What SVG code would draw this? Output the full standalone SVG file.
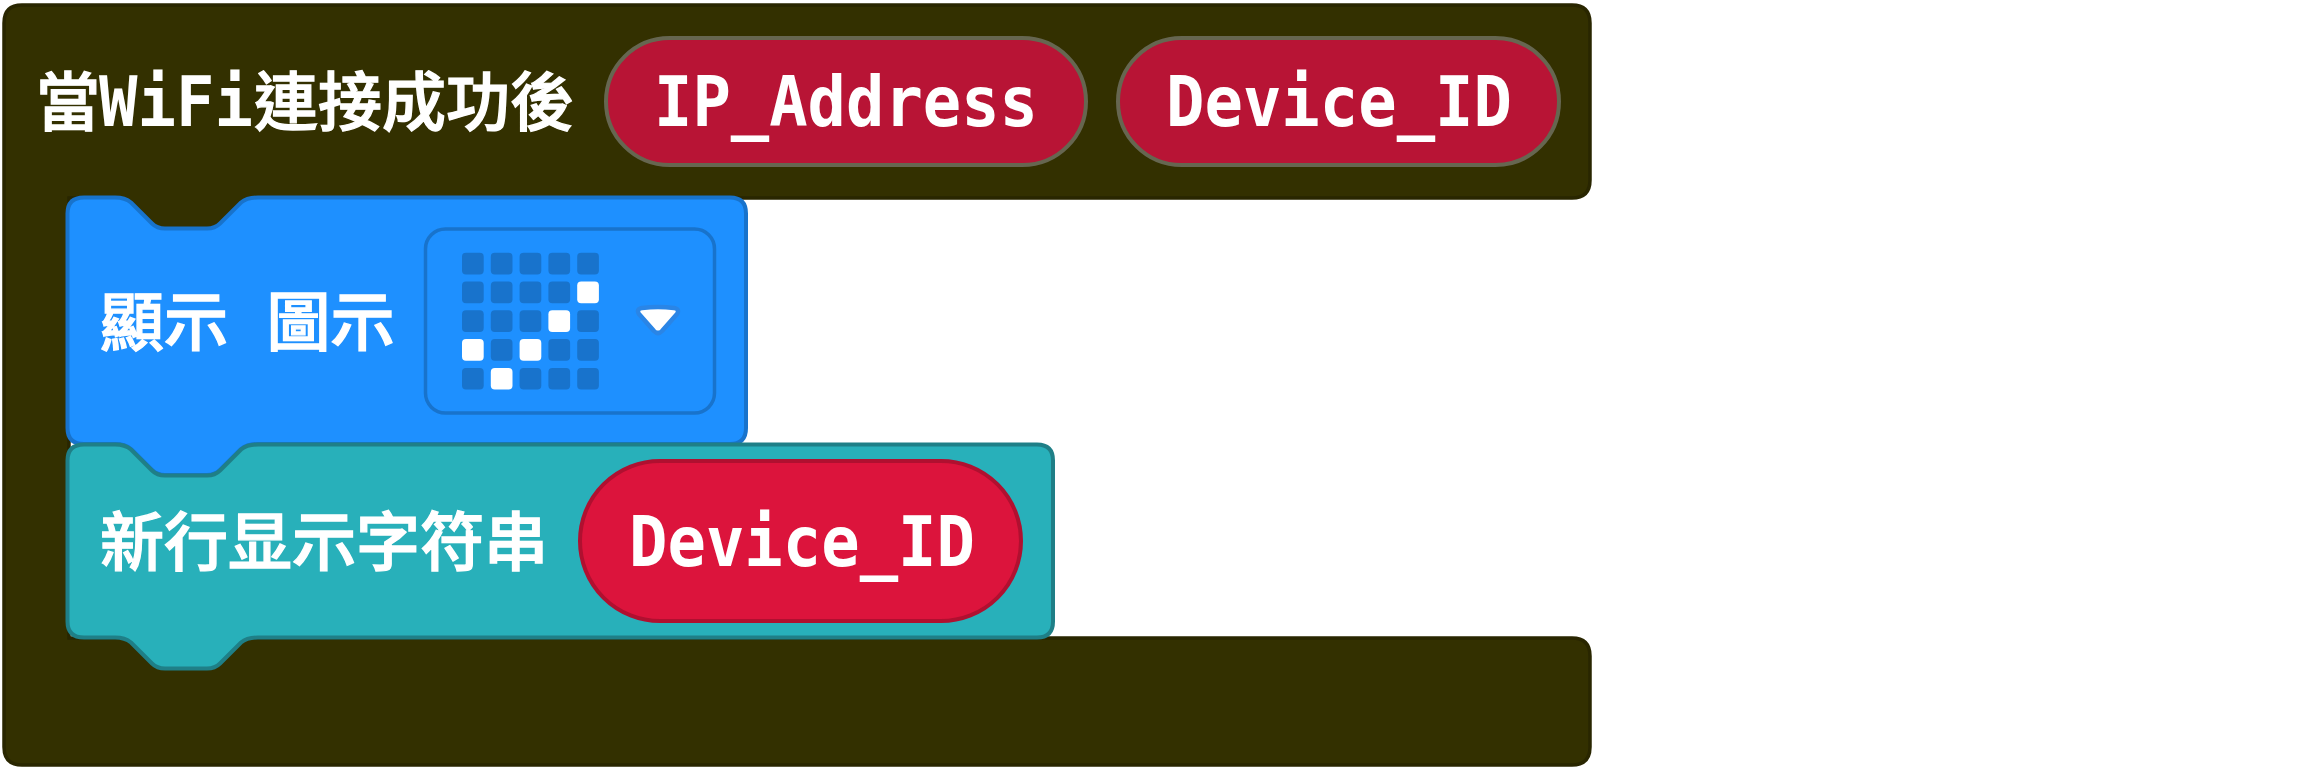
<svg xmlns="http://www.w3.org/2000/svg" width="2300" height="783" viewBox="0 0 2300 783">
<style>
.t{font-family:"DejaVu Sans Mono","Noto Sans CJK TC","Noto Sans CJK SC",monospace;font-size:64px;font-weight:500;fill:#fff;stroke:#fff;stroke-width:1.3px}
.m{font-size:70px;font-weight:700;stroke:none}
.pill1{fill:#b81435;stroke:#666650;stroke-width:4}
.pill2{fill:#dc143c;stroke:#b01030;stroke-width:4}
.d{fill:#1873cc}
.l{fill:#fff}
</style>
<defs>
<rect id="c" width="21.7" height="21.7" rx="4"/>
</defs>
<rect width="2300" height="783" fill="#fff"/>
<g id="event-block">
<path d="M22 5H1572Q1590 5 1590 23V180Q1590 198 1572 198H258Q247 198 241 203L220 224Q215 229 207 229H165Q157 229 152 224L131 203Q125 198 115 198H69V638H1572Q1590 638 1590 656V747Q1590 765 1572 765H22Q4 765 4 747V23Q4 5 22 5Z" fill="#333000" stroke="#292600" stroke-width="3.5"/>
<text class="t" y="125"><tspan x="36">當</tspan><tspan class="m" x="99" y="126" textLength="154" lengthAdjust="spacingAndGlyphs">WiFi</tspan><tspan x="254" y="125">連接成功後</tspan></text>
<rect class="pill1" x="606" y="38" width="480" height="127" rx="63.5"/>
<text class="t m" x="654" y="126" textLength="384" lengthAdjust="spacingAndGlyphs">IP_Address</text>
<rect class="pill1" x="1118" y="38" width="441" height="127" rx="63.5"/>
<text class="t m" x="1166" y="126" textLength="346" lengthAdjust="spacingAndGlyphs">Device_ID</text>
</g>
<g id="show-icon-block">
<path d="M84 197.500H115Q125 197.500 131 202.500L152 223.500Q157 228.500 165 228.500H207Q215 228.500 220 223.500L241 202.500Q247 197.500 258 197.500H730Q746 197.500 746 213.500V428Q746 444 730 444H258Q247 444 241 449L220 470Q215 475 207 475H165Q157 475 152 470L131 449Q125 444 115 444H84Q67.500 444 67.500 428V213.500Q67.500 197.500 84 197.500Z" fill="#1e90ff" stroke="#1873cc" stroke-width="4"/>
<text class="t" x="100" y="345">顯示 圖示</text>
<rect x="425.500" y="229" width="289" height="184" rx="20" fill="#1e90ff" stroke="#1873cc" stroke-width="3.500"/>
<g class="d">
<use href="#c" x="462" y="252.700"/><use href="#c" x="490.800" y="252.700"/><use href="#c" x="519.600" y="252.700"/><use href="#c" x="548.400" y="252.700"/><use href="#c" x="577.200" y="252.700"/>
<use href="#c" x="462" y="281.500"/><use href="#c" x="490.800" y="281.500"/><use href="#c" x="519.600" y="281.500"/><use href="#c" x="548.400" y="281.500"/>
<use href="#c" x="462" y="310.300"/><use href="#c" x="490.800" y="310.300"/><use href="#c" x="519.600" y="310.300"/><use href="#c" x="577.200" y="310.300"/>
<use href="#c" x="490.800" y="339.100"/><use href="#c" x="548.400" y="339.100"/><use href="#c" x="577.200" y="339.100"/>
<use href="#c" x="462" y="367.900"/><use href="#c" x="519.600" y="367.900"/><use href="#c" x="548.400" y="367.900"/><use href="#c" x="577.200" y="367.900"/>
</g>
<g class="l">
<use href="#c" x="577.200" y="281.500"/>
<use href="#c" x="548.400" y="310.300"/>
<use href="#c" x="462" y="339.100"/><use href="#c" x="519.600" y="339.100"/>
<use href="#c" x="490.800" y="367.900"/>
</g>
<path d="M642 308Q658 306 674 308Q680 309 677 314L662 331Q658 335 654 331L639 314Q636 309 642 308Z" fill="#fff" stroke="#2a85e6" stroke-width="4.500" stroke-linejoin="round"/>
</g>
<g id="show-string-block">
<path d="M84 444.500H115Q125 444.500 131 449.500L152 470.500Q157 475.500 165 475.500H207Q215 475.500 220 470.500L241 449.500Q247 444.500 258 444.500H1037Q1053 444.500 1053 460.500V621.500Q1053 637.500 1037 637.500H258Q247 637.500 241 642.500L220 663.500Q215 668.500 207 668.500H165Q157 668.500 152 663.500L131 642.500Q125 637.500 115 637.500H84Q67.500 637.500 67.500 621.500V460.500Q67.500 444.500 84 444.500Z" fill="#28b0ba" stroke="#1f7f87" stroke-width="4"/>
<text class="t" x="100" y="565">新行显示字符串</text>
<rect class="pill2" x="580" y="461" width="441" height="160" rx="80"/>
<text class="t m" x="629" y="566" textLength="346" lengthAdjust="spacingAndGlyphs">Device_ID</text>
</g>
<g id="connectors"/>
</svg>
